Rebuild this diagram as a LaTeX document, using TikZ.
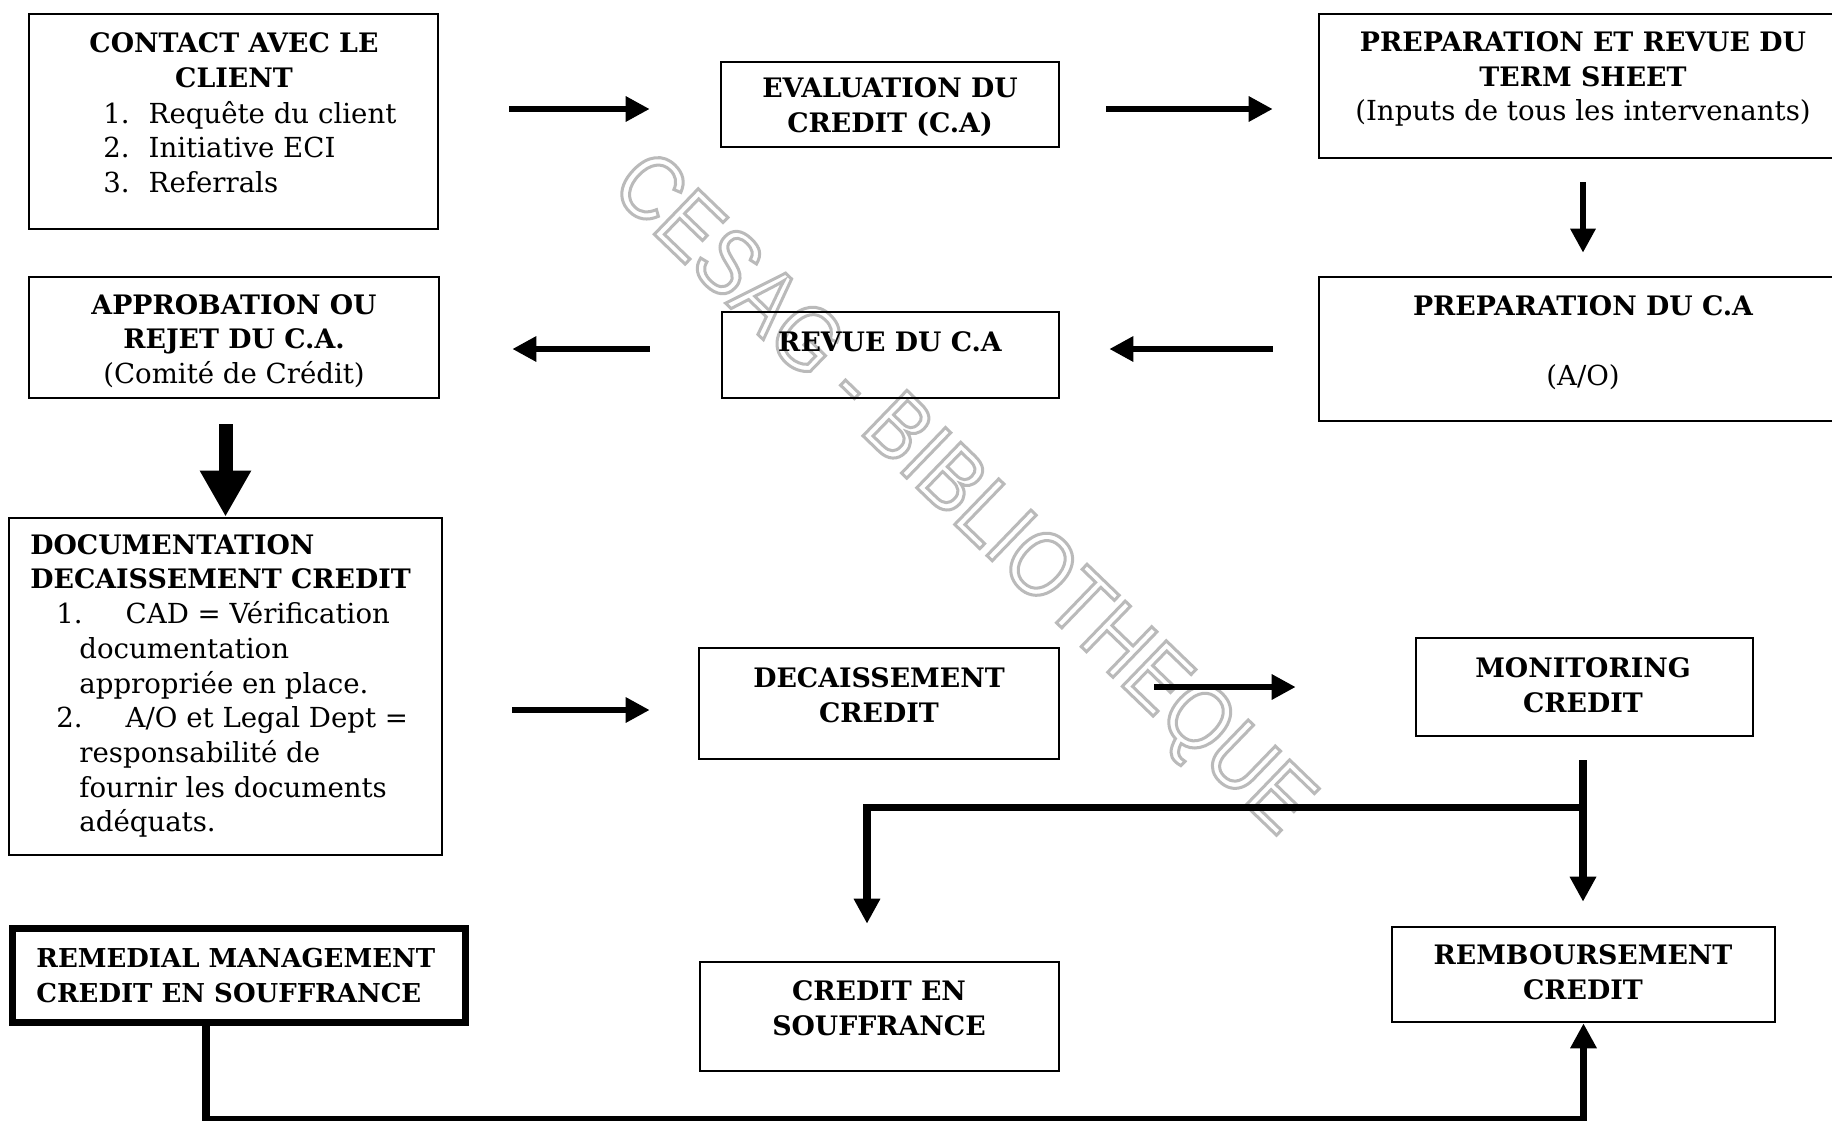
\documentclass[tikz,border=0pt]{standalone}
\usepackage{fontspec}
\setmainfont{DejaVu Serif}
\newfontfamily\wmfont[FakeStretch=0.86]{Liberation Sans}
\usetikzlibrary{arrows.meta,calc}
\begin{document}
\begin{tikzpicture}[x=0.5pt,y=-0.5pt,
  every node/.style={inner sep=0pt, font=\fontsize{13.8pt}{17.35pt}\selectfont},
  box/.style={draw, line width=1.3pt, rectangle, inner sep=0pt},
  hd/.style={font=\fontsize{13.4pt}{17.35pt}\selectfont\bfseries, align=center},
  hdl/.style={font=\fontsize{13pt}{17.35pt}\selectfont\bfseries, align=left},
  txt/.style={font=\fontsize{13.8pt}{17.35pt}\selectfont, align=left},
  wm/.style={font=\wmfont\fontsize{46pt}{46pt}\selectfont, text=black!27, rotate=-44},
  arr/.style={line width=3.2pt, -{Triangle[length=12pt,width=12pt]}},
  arrbig/.style={line width=7pt, -{Triangle[length=23pt,width=24pt]}},
  arrln/.style={line width=3.6pt, -{Triangle[length=12.5pt,width=12.5pt]}},
  ln/.style={line width=3.6pt}
]
\fill[white] (0,0) rectangle (1832,1120);
\useasboundingbox (0,0) rectangle (1832,1120);

% watermark (outlined text)
\node[wm] (wmark) at (960,497) {\special{pdf:literal direct 1 Tr 1.5 w}CESAG - BIBLIOTHEQUE\special{pdf:literal direct 0 Tr}};

% boxes
\node[box, minimum width=204.5pt, minimum height=107.5pt] (contact) at (233.5,121.5) {};
\node[box, minimum width=169pt, minimum height=42.5pt] (eval) at (890,104.5) {};
\node[box, minimum width=264pt, minimum height=72pt] (prepts) at (1583,86) {};
\node[box, minimum width=264pt, minimum height=72pt] (prepca) at (1583,349) {};
\node[box, minimum width=168.5pt, minimum height=43pt] (revue) at (890.5,355) {};
\node[box, minimum width=205pt, minimum height=60.5pt] (approb) at (234,337.5) {};
\node[box, minimum width=216.5pt, minimum height=168.5pt] (doc) at (225.5,686.5) {};
\node[box, minimum width=180pt, minimum height=55.5pt] (decais) at (879,703.5) {};
\node[box, minimum width=168.5pt, minimum height=49pt] (monit) at (1584.5,687) {};
\node[box, minimum width=179.5pt, minimum height=54.5pt] (souff) at (879.5,1016.5) {};
\node[box, minimum width=191.5pt, minimum height=47.5pt] (rembours) at (1583.5,974.5) {};
\node[box, line width=3.5pt, minimum width=226.5pt, minimum height=47pt] (remedial) at (239,975.5) {};

% texts
\node[hd] (contactT) at (234,60) {CONTACT AVEC LE\\CLIENT};
\node[txt, anchor=west] (contactL) at (103,147) {1.\hspace{9.5pt}Requête du client\\2.\hspace{9.5pt}Initiative ECI\\3.\hspace{9.5pt}Referrals};
\node[hd] (evalT) at (890,107) {EVALUATION DU\\CREDIT (C.A)};
\node[hd] (preptsT) at (1583,79) {PREPARATION ET REVUE DU\\TERM SHEET\\{\fontsize{13.8pt}{17.35pt}\selectfont\mdseries (Inputs de tous les intervenants)}};
\node[hd] (prepcaT) at (1583,306) {PREPARATION DU C.A};
\node[txt] (prepcaS) at (1583,377) {(A/O)};
\node[hd] (revueT) at (890,342) {REVUE DU C.A};
\node[hd] (approbT) at (234,341) {APPROBATION OU\\REJET DU C.A.\\{\fontsize{13.8pt}{17.35pt}\selectfont\mdseries (Comité de Crédit)}};
\node[txt, anchor=west] (docT) at (30,686) {{\fontsize{13.4pt}{17.35pt}\selectfont\bfseries DOCUMENTATION}\\
{\fontsize{13.4pt}{17.35pt}\selectfont\bfseries DECAISSEMENT CREDIT}\\
\hspace*{13pt}1.\hspace{21.5pt}CAD = Vérification\\
\hspace*{24.5pt}documentation\\
\hspace*{24.5pt}appropriée en place.\\
\hspace*{13pt}2.\hspace{21.5pt}A/O et Legal Dept =\\
\hspace*{24.5pt}responsabilité de\\
\hspace*{24.5pt}fournir les documents\\
\hspace*{24.5pt}adéquats.};
\node[hd] (decaisT) at (879,695.5) {DECAISSEMENT\\CREDIT};
\node[hd] (monitT) at (1583,685) {MONITORING\\CREDIT};
\node[hd] (souffT) at (879,1008.5) {CREDIT EN\\SOUFFRANCE};
\node[hd] (rembT) at (1583,972.5) {REMBOURSEMENT\\CREDIT};
\node[hdl, anchor=west] (remT) at (36,975.5) {REMEDIAL MANAGEMENT\\CREDIT EN SOUFFRANCE};

% connectors
\draw[arr] ($(contact.east)+(70,-12.5)$) -- ($(eval.west)+(-70,4.5)$);
\draw[arr] ($(eval.east)+(46,4.5)$) -- ($(prepts.west)+(-45,23)$);
\draw[arr] ($(prepts.south)+(0,23)$) -- ($(prepca.north)+(0,-23)$);
\draw[arr] ($(prepca.west)+(-45,0)$) -- ($(revue.east)+(49,-6)$);
\draw[arr] ($(revue.west)+(-71,-6)$) -- ($(approb.east)+(72,11.5)$);
\draw[arrbig] ($(approb.south)+(-8.5,25)$) -- (doc.north);
\draw[arr] ($(doc.east)+(69,23.5)$) -- ($(decais.west)+(-48,6.5)$);
\draw[arr] ($(decais.east)+(94,-16.5)$) -- ($(monit.west)+(-119,0)$);
\coordinate (br) at ($(monit.south)+(-1.5,70)$);
\draw[arrln] ($(monit.south)+(-1.5,23)$) -- ($(rembours.north)+(-0.5,-24)$);
\draw[arrln] (br) -| ($(souff.north)+(-12.5,-37)$);
\draw[arrln] ($(remedial.south)+(-33,0)$) -- ++(0,93.5) -| (rembours.south);
\end{tikzpicture}
\end{document}
